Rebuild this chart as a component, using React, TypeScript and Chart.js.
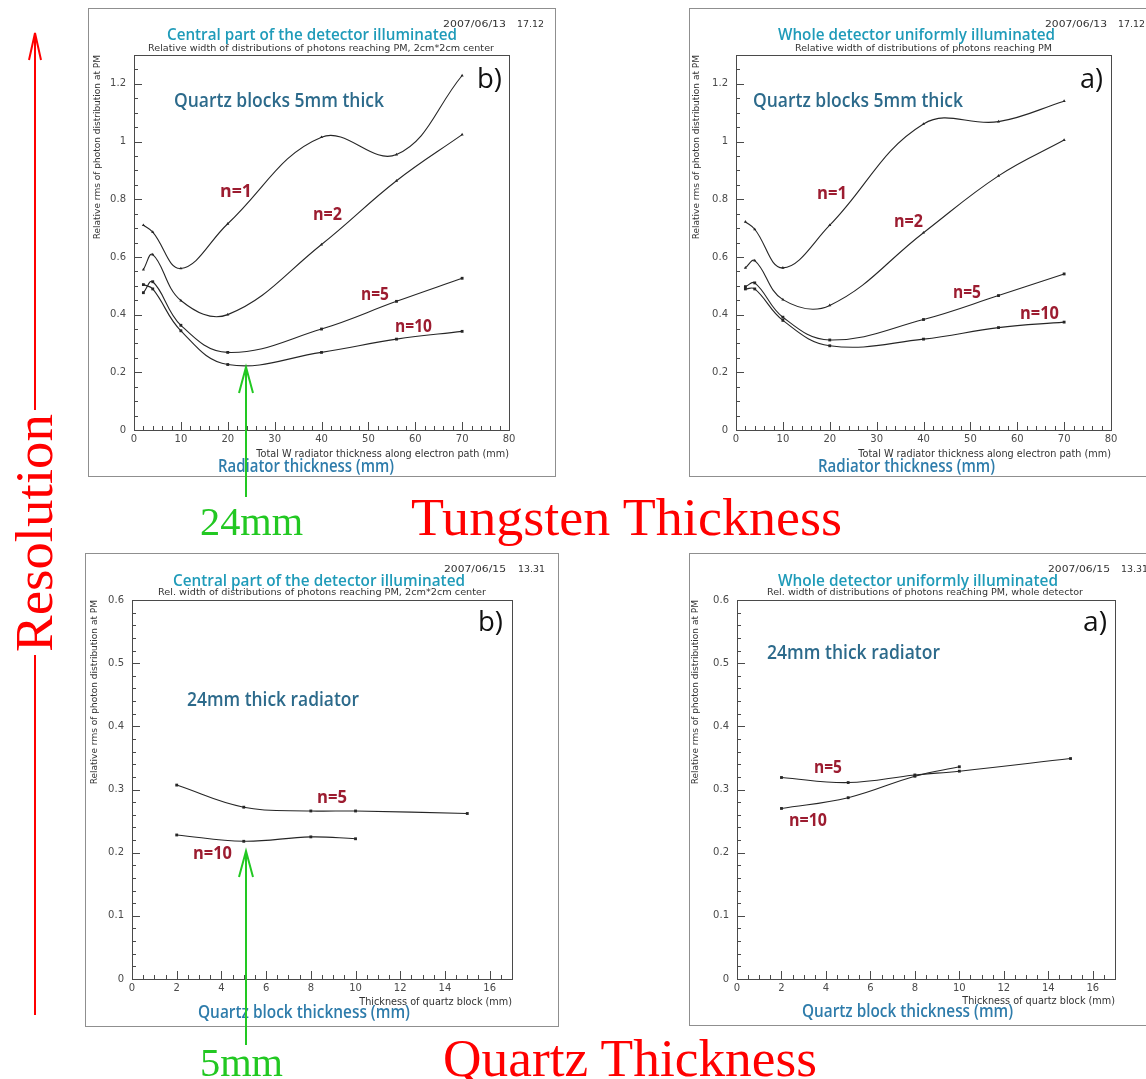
import React, { useEffect, useRef } from 'react';
import { Chart, registerables } from 'chart.js';
Chart.register(...registerables);

// ---------- data ----------
// Top row: relative rms vs total W radiator thickness (mm), quartz blocks 5 mm
const radiatorX = [2, 4, 10, 20, 40, 56, 70];
const centralN1 = [0.71, 0.686, 0.56, 0.715, 1.015, 0.955, 1.229];
const centralN2 = [0.556, 0.608, 0.449, 0.4, 0.643, 0.864, 1.024];
const centralN5 = [0.476, 0.514, 0.363, 0.269, 0.35, 0.446, 0.526];
const centralN10 = [0.504, 0.489, 0.344, 0.227, 0.269, 0.315, 0.342];
const wholeN1 = [0.722, 0.696, 0.562, 0.71, 1.061, 1.069, 1.14];
const wholeN2 = [0.562, 0.587, 0.452, 0.432, 0.684, 0.881, 1.005];
const wholeN5 = [0.497, 0.51, 0.391, 0.312, 0.383, 0.466, 0.541];
const wholeN10 = [0.489, 0.489, 0.38, 0.292, 0.315, 0.355, 0.374];

// Bottom row: relative rms vs quartz block thickness (mm), 24 mm radiator
const quartzX = [2, 5, 8, 10, 15];
const quartzCentralN5 = [0.307, 0.272, 0.266, 0.266, 0.262];
const quartzCentralN10 = [0.228, 0.218, 0.225, 0.222];
const quartzWholeN5 = [0.319, 0.311, 0.323, 0.329, 0.349];
const quartzWholeN10 = [0.27, 0.287, 0.321, 0.336];

// tick labels
const radiatorTicks = [0, 10, 20, 30, 40, 50, 60, 70, 80];
const rmsTicksTop = [0, 0.2, 0.4, 0.6, 0.8, 1, 1.2];
const quartzTicks = [0, 2, 4, 6, 8, 10, 12, 14, 16];
const rmsTicksBottom = [0, 0.1, 0.2, 0.3, 0.4, 0.5, 0.6];

// ---------- styles ----------
const LINE = '#262626';
const TICK_TXT = '#4a4a4a';
const TEAL = '#1f9bb9';
const STEEL = '#2c6a8b';
const AXBLUE = '#2e7cab';
const NRED = '#9c1c30';
const GREEN = '#22c822';
const RED = '#ff0000';
const X_TITLE_SIZE = 9.7;
const Y_TITLE_SIZE = 9;
const SANS = '"Open Sans", "Noto Sans", sans-serif';
const SMALL = '"DejaVu Sans", sans-serif';
const SERIF = '"Liberation Serif", "Times New Roman", serif';

type Series = { x: number[]; y: number[]; marker: string; radius: number };
type PanelSpec = {
  frame: { left: number; top: number; width: number; height: number };
  area: { left: number; top: number; right: number; bottom: number };
  yTitleX: number;
  xTitleY: number;
  xMax: number;
  yMax: number;
  xTicks: number[];
  yTicks: number[];
  xMinor: number;
  xPerMajor: number;
  yMinor: number;
  yPerMajor: number;
  xTitle: string;
  yTitle: string;
  series: Series[];
};

function Panel(p: PanelSpec) {
  const ref = useRef<HTMLCanvasElement>(null);
  useEffect(() => {
    const f = p.frame;
    const a = p.area;
    const L = a.left - f.left;
    const T = a.top - f.top;
    const R = a.right - f.left;
    const B = a.bottom - f.top;
    const padLeft = p.yTitleX - f.left - (Y_TITLE_SIZE * 1.2) / 2;
    const xBottom = p.xTitleY - f.top + (X_TITLE_SIZE * 1.2) / 2;

    const frameTicks = {
      id: 'frameTicks',
      afterDraw(chart: any) {
        const { ctx, chartArea: ca } = chart;
        const xs = chart.scales.x;
        const ys = chart.scales.y;
        ctx.save();
        ctx.strokeStyle = '#4a4a4a';
        ctx.lineWidth = 1;
        ctx.strokeRect(Math.round(ca.left) + 0.5, Math.round(ca.top) + 0.5, Math.round(ca.right - ca.left), Math.round(ca.bottom - ca.top));
        ctx.beginPath();
        const nx = Math.round((xs.max - xs.min) / p.xMinor);
        for (let i = 0; i <= nx; i++) {
          const v = xs.min + i * p.xMinor;
          const px = Math.round(xs.getPixelForValue(v)) + 0.5;
          const len = i % p.xPerMajor === 0 ? 8 : 4;
          ctx.moveTo(px, ca.bottom);
          ctx.lineTo(px, ca.bottom - len);
        }
        const ny = Math.round((ys.max - ys.min) / p.yMinor);
        for (let i = 0; i <= ny; i++) {
          const v = ys.min + i * p.yMinor;
          const py = Math.round(ys.getPixelForValue(v)) + 0.5;
          const len = i % p.yPerMajor === 0 ? 8 : 4;
          ctx.moveTo(ca.left, py);
          ctx.lineTo(ca.left + len, py);
        }
        ctx.stroke();
        ctx.restore();
      },
    };

    const chart = new Chart(ref.current as HTMLCanvasElement, {
      type: 'line',
      data: {
        datasets: p.series.map((s) => ({
          data: s.y.map((y, i) => ({ x: s.x[i], y })),
          borderColor: LINE,
          borderWidth: 1.1,
          tension: 0.4,
          fill: false,
          pointStyle: s.marker as any,
          pointRadius: s.radius,
          pointBackgroundColor: LINE,
          pointBorderColor: LINE,
          pointBorderWidth: 0,
        })),
      },
      options: {
        animation: false,
        responsive: false,
        maintainAspectRatio: false,
        events: [],
        layout: {
          padding: { left: padLeft, top: T, right: f.width - R, bottom: f.height - xBottom },
        },
        plugins: { legend: { display: false }, tooltip: { enabled: false } },
        scales: {
          x: {
            type: 'linear',
            min: 0,
            max: p.xMax,
            grid: { display: false, drawTicks: false },
            border: { display: false },
            afterBuildTicks: (s: any) => {
              s.ticks = p.xTicks.map((v) => ({ value: v }));
            },
            afterFit: (s: any) => {
              s.height = xBottom - B;
            },
            ticks: {
              padding: 3,
              color: TICK_TXT,
              font: { family: SMALL, size: 10 },
              maxRotation: 0,
              autoSkip: false,
              callback: (v: any) => String(v),
            },
            title: {
              display: true,
              text: p.xTitle,
              align: 'end',
              padding: 0,
              color: '#333',
              font: { family: SMALL, size: X_TITLE_SIZE },
            },
          },
          y: {
            type: 'linear',
            min: 0,
            max: p.yMax,
            grid: { display: false, drawTicks: false },
            border: { display: false },
            afterBuildTicks: (s: any) => {
              s.ticks = p.yTicks.map((v) => ({ value: v }));
            },
            afterFit: (s: any) => {
              s.width = L - padLeft;
            },
            ticks: {
              padding: 8,
              color: TICK_TXT,
              font: { family: SMALL, size: 10 },
              autoSkip: false,
              callback: (v: any) => String(v),
            },
            title: {
              display: true,
              text: p.yTitle,
              align: 'end',
              padding: 0,
              color: '#333',
              font: { family: SMALL, size: Y_TITLE_SIZE },
            },
          },
        },
      } as any,
      plugins: [frameTicks as any],
    });
    return () => chart.destroy();
  }, []);
  const f = p.frame;
  return (
    <>
      <div
        style={{
          position: 'absolute',
          left: f.left,
          top: f.top,
          width: f.width,
          height: f.height,
          border: '1.5px solid #8f8f8f',
          boxSizing: 'border-box',
        }}
      />
      <canvas ref={ref} width={f.width} height={f.height} style={{ position: 'absolute', left: f.left, top: f.top }} />
    </>
  );
}

const Y_TITLE = 'Relative rms of photon distribution at PM';
const X_TITLE_TOP = 'Total W radiator thickness along electron path (mm)';
const X_TITLE_BOTTOM = 'Thickness of quartz block (mm)';

const topSeries = (n1: number[], n2: number[], n5: number[], n10: number[]): Series[] => [
  { x: radiatorX, y: n1, marker: 'triangle', radius: 1.8 },
  { x: radiatorX, y: n2, marker: 'triangle', radius: 1.8 },
  { x: radiatorX, y: n5, marker: 'rect', radius: 2 },
  { x: radiatorX, y: n10, marker: 'rect', radius: 2 },
];
const bottomSeries = (n5: number[], n10: number[]): Series[] => [
  { x: quartzX, y: n5, marker: 'rect', radius: 2 },
  { x: quartzX, y: n10, marker: 'rect', radius: 2 },
];

const panels: PanelSpec[] = [
  {
    frame: { left: 88, top: 8, width: 468, height: 469 },
    area: { left: 134, top: 55, right: 509, bottom: 430 },
    yTitleX: 98, xTitleY: 454, xMax: 80, yMax: 1.3,
    xTicks: radiatorTicks, yTicks: rmsTicksTop, xMinor: 2, xPerMajor: 5, yMinor: 0.05, yPerMajor: 4,
    xTitle: X_TITLE_TOP, yTitle: Y_TITLE,
    series: topSeries(centralN1, centralN2, centralN5, centralN10),
  },
  {
    frame: { left: 689, top: 8, width: 470, height: 469 },
    area: { left: 736, top: 55, right: 1111, bottom: 430 },
    yTitleX: 697, xTitleY: 454, xMax: 80, yMax: 1.3,
    xTicks: radiatorTicks, yTicks: rmsTicksTop, xMinor: 2, xPerMajor: 5, yMinor: 0.05, yPerMajor: 4,
    xTitle: X_TITLE_TOP, yTitle: Y_TITLE,
    series: topSeries(wholeN1, wholeN2, wholeN5, wholeN10),
  },
  {
    frame: { left: 85, top: 553, width: 474, height: 474 },
    area: { left: 132, top: 600, right: 512, bottom: 979 },
    yTitleX: 95, xTitleY: 1002, xMax: 17, yMax: 0.6,
    xTicks: quartzTicks, yTicks: rmsTicksBottom, xMinor: 0.5, xPerMajor: 4, yMinor: 0.02, yPerMajor: 5,
    xTitle: X_TITLE_BOTTOM, yTitle: Y_TITLE,
    series: bottomSeries(quartzCentralN5, quartzCentralN10),
  },
  {
    frame: { left: 689, top: 553, width: 474, height: 473 },
    area: { left: 737, top: 600, right: 1115, bottom: 979 },
    yTitleX: 696, xTitleY: 1001, xMax: 17, yMax: 0.6,
    xTicks: quartzTicks, yTicks: rmsTicksBottom, xMinor: 0.5, xPerMajor: 4, yMinor: 0.02, yPerMajor: 5,
    xTitle: X_TITLE_BOTTOM, yTitle: Y_TITLE,
    series: bottomSeries(quartzWholeN5, quartzWholeN10),
  },
];

type Txt = { t: string; x: number; y: number; len: number; size: number; fill: string; weight?: number; family?: string };

const texts: Txt[] = [
  // top-left
  { t: '2007/06/13', x: 443, y: 27, len: 63, size: 9.5, fill: '#333', family: SMALL },
  { t: '17.12', x: 517, y: 27, len: 27, size: 9.5, fill: '#333', family: SMALL },
  { t: 'Central part of the detector illuminated', x: 167, y: 40, len: 290, size: 17, fill: TEAL, weight: 600 },
  { t: 'Relative width of distributions of photons reaching PM, 2cm*2cm center', x: 148, y: 51, len: 346, size: 9, fill: '#333', family: SMALL },
  { t: 'b)', x: 477, y: 88, len: 25, size: 27, fill: '#111', weight: 400 },
  { t: 'Quartz blocks 5mm thick', x: 174, y: 107, len: 210, size: 20, fill: STEEL, weight: 600 },
  { t: 'n=1', x: 220, y: 197, len: 32, size: 17, fill: NRED, weight: 700 },
  { t: 'n=2', x: 313, y: 220, len: 29, size: 17, fill: NRED, weight: 700 },
  { t: 'n=5', x: 361, y: 300, len: 28, size: 17, fill: NRED, weight: 700 },
  { t: 'n=10', x: 395, y: 332, len: 37, size: 17, fill: NRED, weight: 700 },
  { t: 'Radiator thickness (mm)', x: 218, y: 472, len: 176, size: 18, fill: AXBLUE, weight: 600 },
  // top-right
  { t: '2007/06/13', x: 1045, y: 27, len: 62, size: 9.5, fill: '#333', family: SMALL },
  { t: '17.12', x: 1118, y: 27, len: 27, size: 9.5, fill: '#333', family: SMALL },
  { t: 'Whole detector uniformly illuminated', x: 778, y: 40, len: 277, size: 17, fill: TEAL, weight: 600 },
  { t: 'Relative width of distributions of photons reaching PM', x: 795, y: 51, len: 257, size: 9, fill: '#333', family: SMALL },
  { t: 'a)', x: 1080, y: 88, len: 23, size: 27, fill: '#111', weight: 400 },
  { t: 'Quartz blocks 5mm thick', x: 753, y: 107, len: 210, size: 20, fill: STEEL, weight: 600 },
  { t: 'n=1', x: 817, y: 199, len: 30, size: 17, fill: NRED, weight: 700 },
  { t: 'n=2', x: 894, y: 227, len: 29, size: 17, fill: NRED, weight: 700 },
  { t: 'n=5', x: 953, y: 298, len: 28, size: 17, fill: NRED, weight: 700 },
  { t: 'n=10', x: 1020, y: 319, len: 39, size: 17, fill: NRED, weight: 700 },
  { t: 'Radiator thickness (mm)', x: 818, y: 472, len: 177, size: 18, fill: AXBLUE, weight: 600 },
  // bottom-left
  { t: '2007/06/15', x: 444, y: 572, len: 62, size: 9.5, fill: '#333', family: SMALL },
  { t: '13.31', x: 518, y: 572, len: 27, size: 9.5, fill: '#333', family: SMALL },
  { t: 'Central part of the detector illuminated', x: 173, y: 586, len: 292, size: 17, fill: TEAL, weight: 600 },
  { t: 'Rel. width of distributions of photons reaching PM, 2cm*2cm center', x: 158, y: 595, len: 328, size: 8.5, fill: '#333', family: SMALL },
  { t: 'b)', x: 478, y: 631, len: 25, size: 27, fill: '#111', weight: 400 },
  { t: '24mm thick radiator', x: 187, y: 706, len: 172, size: 20, fill: STEEL, weight: 600 },
  { t: 'n=5', x: 317, y: 803, len: 30, size: 17, fill: NRED, weight: 700 },
  { t: 'n=10', x: 193, y: 859, len: 39, size: 17, fill: NRED, weight: 700 },
  { t: 'Quartz block thickness (mm)', x: 198, y: 1018, len: 212, size: 18, fill: AXBLUE, weight: 600 },
  // bottom-right
  { t: '2007/06/15', x: 1048, y: 572, len: 62, size: 9.5, fill: '#333', family: SMALL },
  { t: '13.31', x: 1121, y: 572, len: 27, size: 9.5, fill: '#333', family: SMALL },
  { t: 'Whole detector uniformly illuminated', x: 778, y: 586, len: 280, size: 17, fill: TEAL, weight: 600 },
  { t: 'Rel. width of distributions of photons reaching PM, whole detector', x: 767, y: 595, len: 316, size: 8.5, fill: '#333', family: SMALL },
  { t: 'a)', x: 1083, y: 631, len: 24, size: 27, fill: '#111', weight: 400 },
  { t: '24mm thick radiator', x: 767, y: 659, len: 173, size: 20, fill: STEEL, weight: 600 },
  { t: 'n=5', x: 814, y: 773, len: 28, size: 17, fill: NRED, weight: 700 },
  { t: 'n=10', x: 789, y: 826, len: 38, size: 17, fill: NRED, weight: 700 },
  { t: 'Quartz block thickness (mm)', x: 802, y: 1017, len: 211, size: 18, fill: AXBLUE, weight: 600 },
  // big annotations
  { t: '24mm', x: 200, y: 535, len: 103, size: 40, fill: GREEN, weight: 400, family: SERIF },
  { t: 'Tungsten Thickness', x: 411, y: 535, len: 431, size: 53, fill: RED, weight: 400, family: SERIF },
  { t: '5mm', x: 200, y: 1076, len: 83, size: 40, fill: GREEN, weight: 400, family: SERIF },
  { t: 'Quartz Thickness', x: 443, y: 1076, len: 374, size: 53, fill: RED, weight: 400, family: SERIF },
];

function Overlay() {
  return (
    <svg
      width={1146}
      height={1079}
      style={{ position: 'absolute', left: 0, top: 0, pointerEvents: 'none' }}
    >
      {texts.map((d, i) => (
        <text
          key={i}
          x={d.x}
          y={d.y}
          textLength={d.len}
          lengthAdjust="spacingAndGlyphs"
          fontSize={d.size}
          fill={d.fill}
          fontWeight={d.weight ?? 400}
          fontFamily={d.family ?? SANS}
        >
          {d.t}
        </text>
      ))}
      <text
        transform="translate(52,652) rotate(-90)"
        x={0}
        y={0}
        textLength={238}
        lengthAdjust="spacingAndGlyphs"
        fontSize={53}
        fill={RED}
        fontFamily={SERIF}
      >
        Resolution
      </text>
      {/* red resolution arrow */}
      <g stroke={RED} strokeWidth={2} fill="none">
        <line x1={35} y1={33} x2={35} y2={410} />
        <polyline points="29,60 35,33 41,60" />
        <line x1={35} y1={655} x2={35} y2={1015} />
      </g>
      {/* green markers */}
      <g stroke={GREEN} strokeWidth={2} fill="none">
        <line x1={246} y1={367} x2={246} y2={497} />
        <polyline points="239,393 246,367 253,393" />
        <line x1={246} y1={851} x2={246} y2={1045} />
        <polyline points="239,877 246,851 253,877" />
      </g>
    </svg>
  );
}

export default function App() {
  return (
    <div
      style={{
        position: 'absolute',
        left: 0,
        top: 0,
        width: 1146,
        height: 1079,
        overflow: 'hidden',
        background: '#fff',
      }}
    >
      {panels.map((p, i) => (
        <Panel key={i} {...p} />
      ))}
      <Overlay />
    </div>
  );
}
